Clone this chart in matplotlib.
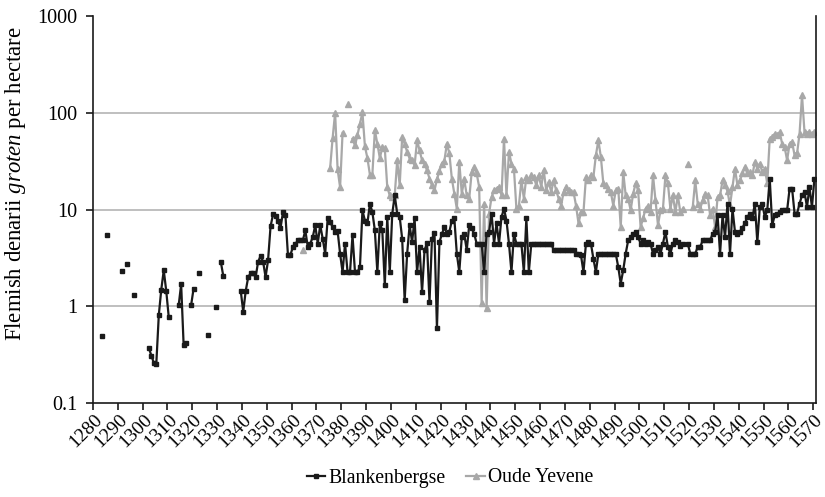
import numpy as np
import matplotlib
matplotlib.use("Agg")
import matplotlib.pyplot as plt
import matplotlib.transforms as mtrans
from matplotlib.lines import Line2D

nan = np.nan

# Blankenbergse, one value per year 1280-1570 (nan = no data)
blank_start = 1280
blank_vals = [
    nan, nan, nan, 0.49, nan, 5.5, nan, nan, nan, nan,          # 1280
    nan, 2.3, nan, 2.75, nan, nan, 1.3, nan, nan, nan,          # 1290
    nan, nan, 0.37, 0.31, 0.26, 0.255, 0.81, 1.49, 2.36, 1.44,  # 1300
    0.78, nan, nan, nan, 1.02, 1.69, 0.40, 0.42, nan, 1.02,     # 1310
    1.52, nan, 2.23, nan, nan, nan, 0.5, nan, nan, 0.98,        # 1320
    nan, 2.85, 2.04, nan, nan, nan, nan, nan, nan, 1.44,        # 1330
    0.88, 1.44, 2.0, 2.2, 2.2, 2.0, 2.9, 3.3, 2.9, 2.0,         # 1340
    3.0, 6.7, 8.9, 8.5, 7.7, 6.4, 9.4, 8.7, 3.4, 3.4,           # 1350
    4.1, 4.4, 4.8, 4.8, 4.8, 6.1, 4.1, 4.45, 5.2, 6.9,          # 1360
    4.45, 6.9, 5.0, 3.5, 8.1, 7.4, 6.6, 5.9, 6.0, 3.5,          # 1370
    2.26, 4.45, 2.26, 2.26, 5.4, 2.26, 2.26, 2.55, 9.8, 7.7,    # 1380
    7.2, 11.5, 9.4, 6.1, 2.26, 7.2, 6.1, 1.65, 8.4, 2.26,       # 1390
    9.0, 14.0, 9.1, 8.4, 5.0, 1.15, 3.5, 6.9, 4.6, 8.1,         # 1400
    2.26, 4.1, 1.4, 3.8, 4.5, 1.1, 5.0, 5.7, 0.59, 4.6,         # 1410
    5.6, 6.6, 5.6, 5.9, 7.7, 8.1, 3.5, 2.26, 5.2, 5.6,          # 1420
    3.8, 6.9, 6.4, 5.6, 4.45, 4.45, 4.45, 2.26, 5.6, 5.9,       # 1430
    9.1, 4.45, 7.2, 4.45, 8.4, 10.2, 7.7, 4.45, 2.26, 5.6,      # 1440
    4.45, 4.45, 4.45, 2.26, 8.1, 2.26, 4.45, 4.45, 4.45, 4.45,  # 1450
    4.45, 4.45, 4.45, 4.45, 4.45, 3.8, 3.8, 3.8, 3.8, 3.8,      # 1460
    3.8, 3.8, 3.8, 3.8, 3.5, 3.5, 3.37, 2.26, 4.45, 4.6,        # 1470
    4.45, 3.1, 2.26, 3.5, 3.5, 3.5, 3.5, 3.5, 3.5, 3.5,         # 1480
    3.5, 2.55, 1.72, 2.36, 3.5, 4.8, 5.2, 5.6, 5.9, 5.2,        # 1490
    4.45, 4.8, 4.45, 4.6, 4.45, 3.5, 3.8, 4.1, 3.5, 4.45,       # 1500
    5.9, 4.1, 3.5, 4.45, 4.8, 4.6, 4.25, 4.45, nan, 4.45,       # 1510
    3.5, 3.5, 3.5, 4.1, 4.1, 4.8, 4.8, 4.8, 4.8, 5.6,           # 1520
    5.9, 8.7, 3.5, 8.7, 5.2, 11.5, 3.5, 10.2, 5.9, 5.6,         # 1530
    5.9, 6.5, 7.2, 8.4, 9.1, 8.1, 11.5, 4.6, 10.6, 11.5,        # 1540
    8.4, 9.8, 20.9, 6.9, 8.7, 9.1, 9.4, 9.8, 9.8, 9.8,          # 1550
    16.5, 16.5, 9.1, 9.1, 11.5, 14.0, 15.2, 10.6, 17.1, 10.6,   # 1560
    20.9,                                                       # 1570
]

# Oude Yevene, one value per year 1360-1570
yev_start = 1360
yev_vals = [
    nan, nan, nan, nan, 3.8, nan, nan, nan, nan, nan,           # 1360
    nan, nan, nan, nan, nan, 27, 55, 100, 26, 17,               # 1370
    62, nan, 124, nan, 54, 46, 59, 77, 101, 45,                 # 1380
    34, 23, 23, 66, 48, 34, 44, 43, 17, 14,                     # 1390
    13.5, 14, 32.3, 17.8, 56, 48, 39.4, 33.7, 32.3, 28.7,       # 1400
    52, 41, 32.3, 29.9, 25.5, 20.9, 17.8, 15.8, 20.5, 25,       # 1410
    29.9, 32, 48, 38, 20.9, 14.6, 10.2, 31, 14.6, 20.5,         # 1420
    14, 13, 24.5, 27.6, 23.6, 17.1, 1.07, 11.5, 0.95, 9.1,      # 1430
    13.5, 15.8, 16.5, 17.1, 14, 54, 14, 39.4, 29.9, 26.5,       # 1440
    10.2, 11, 20, 13, 21.7, 20, 22.6, 21.7, 17.8, 22.6,         # 1450
    17.1, 25.5, 15.8, 19.3, 15.2, 20, 15.8, 13, 11, 15.2,       # 1460
    17.1, 15.8, 15.2, 15.2, 11, 7.2, 9.4, 9.4, 21.7, 20,        # 1470
    22.6, 21.7, 36.4, 52, 35, 18.6, 17.8, 16.5, 15.2, 11,       # 1480
    15.8, 16.5, 6.6, 24.5, 14, 13, 9.8, 14.6, 18.6, 15.8,       # 1490
    6.6, 8.1, 10.2, 11, 9.4, 22.6, 12.5, 6.9, 9.8, 10.2,        # 1500
    22.6, 18.6, 10.2, 14, 9.4, 14, 9.4, 10.2, nan, 29.9,        # 1510
    nan, 10.6, 20, 11.5, 10.2, 12.5, 14.6, 14, 8.7, 10.2,       # 1520
    6.6, 13.5, 14, 20, 17.8, 15.5, 11, 17.1, 26.5, 17.8,        # 1530
    20, 23.6, 27.6, 23.6, 24.5, 22.6, 31, 26.5, 29.9, 24.5,     # 1540
    26.5, 18.6, 54, 56, 60.7, 58.5, 63, 48, 44, 32.3,           # 1550
    48, 50, 36.4, 38, 60.7, 152, 63, 60.7, 63, 60.7,            # 1560
    63,                                                         # 1570
]

blank_years = np.arange(blank_start, blank_start + len(blank_vals))
yev_years = np.arange(yev_start, yev_start + len(yev_vals))
tick_years = list(range(1280, 1571, 10))

plt.rcParams['font.family'] = ['Liberation Serif', 'DejaVu Serif']
plt.rcParams['mathtext.fontset'] = 'custom'
plt.rcParams['mathtext.rm'] = 'Liberation Serif'
plt.rcParams['mathtext.it'] = 'Liberation Serif:italic'

fig = plt.figure(figsize=(8.25, 4.97), dpi=100)
ax = fig.add_axes([0.1127, 0.189, 0.876, 0.7787])

black = '#1a1a1a'
grey = '#a8a8a8'

ax.plot(yev_years, yev_vals, color=grey, lw=1.6, marker='^', ms=4,
        mec=grey, mfc=grey, zorder=2)
ax.plot(blank_years, blank_vals, color=black, lw=1.6, marker='s', ms=2.8,
        mec=black, mfc=black, zorder=3)

ax.set_yscale('log')
ax.set_ylim(0.1, 1000)
ax.set_xlim(1279.5, 1570.5)
ax.set_yticks([0.1, 1, 10, 100, 1000])
ax.set_yticklabels(['0.1', '1', '10', '100', '1000'])
ax.minorticks_off()
for v in [1, 10, 100]:
    ax.axhline(v, color='#b4b4b4', lw=1.2, zorder=1)

ax.set_xticks([y - 0.5 for y in tick_years])
ax.set_xticklabels([str(y) for y in tick_years], rotation=45, ha='center')
ax.tick_params(axis='both', labelsize=14, direction='out', length=5,
               width=1.2, color=black)
ax.tick_params(axis='y', labelsize=14.5, pad=6)
ax.tick_params(axis='x', pad=1)
shift = mtrans.ScaledTranslation(-7 / 100, 0, fig.dpi_scale_trans)
for lab in ax.get_xticklabels():
    lab.set_transform(lab.get_transform() + shift)

ax.spines['top'].set_visible(False)
for s in ['left', 'bottom', 'right']:
    ax.spines[s].set_color(black)
    ax.spines[s].set_linewidth(1.2)

fig.text(16 / 825, 1 - 184 / 497,
         r'Flemish denarii $\mathit{groten}$ per hectare',
         rotation=90, ha='center', va='center', fontsize=16.4)

handles = [
    Line2D([], [], color=black, lw=1.6, marker='s', ms=2.8),
    Line2D([], [], color=grey, lw=1.6, marker='^', ms=4),
]
fig.legend(handles, ['Blankenbergse', 'Oude Yevene'], loc='center',
           bbox_to_anchor=(450 / 825, 1 - 478 / 497), ncol=2, frameon=False,
           fontsize=14.2, handlelength=0.95, handletextpad=0.15,
           columnspacing=1.05)

fig.savefig('out.png', dpi=100)
